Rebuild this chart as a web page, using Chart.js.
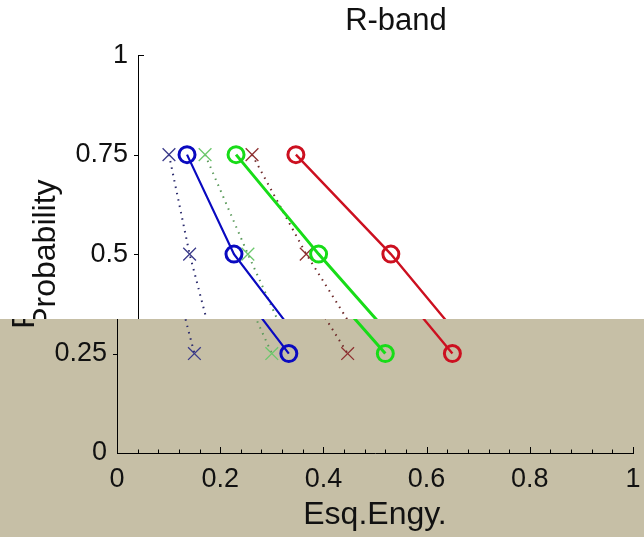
<!DOCTYPE html>
<html>
<head>
<meta charset="utf-8">
<title>R-band</title>
<script src="https://cdn.jsdelivr.net/npm/chart.js@4/dist/chart.umd.min.js"></script>
<style>
  html, body { margin: 0; padding: 0; background: #ffffff; }
  #wrap { position: relative; width: 644px; height: 537px; overflow: hidden; background: #c6bfa6; }
  #under { position: absolute; left: 0; top: 0; }
  #upper { position: absolute; left: 0; top: 0; width: 644px; height: 319px; overflow: hidden; background: #ffffff; }
  #over { position: absolute; left: 21px; top: 0; }
</style>
</head>
<body>
<div id="wrap">
  <canvas id="under" width="644" height="537"></canvas>
  <div id="upper">
    <canvas id="over" width="644" height="537"></canvas>
  </div>
</div>
<script>
// Probability levels shared by every curve
const probLevels = [0.75, 0.5, 0.25];

// Energy at each probability level: solid curves (circles)
const blueEnergy  = [0.095, 0.186, 0.333];
const greenEnergy = [0.19, 0.35, 0.52];
const redEnergy   = [0.306, 0.49, 0.65];

// Energy at each probability level: dotted curves (crosses)
const blueEnergyX  = [0.06, 0.10, 0.15];
const greenEnergyX = [0.13, 0.213, 0.30];
const redEnergyX   = [0.221, 0.326, 0.447];

// Axis tick values
const xTicks = [0, 0.2, 0.4, 0.6, 0.8, 1];
const yTicks = [0, 0.25, 0.5, 0.75, 1];

const titleText = 'R-band';
const xLabel = 'Esq.Engy.';
const yLabel = 'Probability';

const FONT = "'Liberation Sans', Arial, Helvetica, sans-serif";

function pts(xs) {
  return xs.map((v, i) => ({ x: v, y: probLevels[i] }));
}

function fmt(v) {
  return String(Math.round(v * 100) / 100);
}

function solid(xs, color, width) {
  return {
    data: pts(xs),
    borderColor: color,
    backgroundColor: 'rgba(0,0,0,0)',
    borderWidth: width,
    pointStyle: 'circle',
    pointRadius: 8,
    pointBorderWidth: 3,
    pointBorderColor: color,
    pointBackgroundColor: 'rgba(0,0,0,0)',
    showLine: true,
    tension: 0
  };
}

function dotted(xs, lineColor, markColor) {
  return {
    data: pts(xs),
    borderColor: lineColor,
    backgroundColor: 'rgba(0,0,0,0)',
    borderWidth: 2,
    borderDash: [1.5, 5],
    pointStyle: 'crossRot',
    pointRadius: 9,
    pointBorderWidth: 1.3,
    pointBorderColor: markColor,
    showLine: true,
    tension: 0
  };
}

// Tick marks: x ticks point into the plot, y ticks point outward
const axisMarks = {
  id: 'axisMarks',
  afterDraw(chart) {
    const { ctx, chartArea: a, scales: { x, y } } = chart;
    ctx.save();
    ctx.strokeStyle = '#000';
    ctx.lineWidth = 1;
    ctx.beginPath();
    for (let i = 0; i <= 25; i++) {
      const px = Math.round(x.getPixelForValue(i * 0.04)) + 0.5;
      const len = (i % 5 === 0) ? 6 : 3.5;
      ctx.moveTo(px, a.bottom);
      ctx.lineTo(px, a.bottom - len);
    }
    yTicks.slice(1, -1).forEach(v => {
      const py = Math.round(y.getPixelForValue(v)) + 0.5;
      ctx.moveTo(a.left, py);
      ctx.lineTo(a.left - 4, py);
    });
    const pTop = Math.round(y.getPixelForValue(yTicks[yTicks.length - 1])) + 0.5;
    ctx.moveTo(a.left, pTop);
    ctx.lineTo(a.left + 6, pTop);
    ctx.stroke();
    ctx.restore();
  }
};

function makeChart(canvasId) {
  return new Chart(document.getElementById(canvasId), {
    type: 'scatter',
    data: {
      datasets: [
        solid(blueEnergy, '#0a0ac0', 2.2),
        dotted(blueEnergyX, '#2c2c6e', '#3a3a8a'),
        solid(greenEnergy, '#18dc18', 3),
        dotted(greenEnergyX, '#5a9a5a', '#6cc86c'),
        solid(redEnergy, '#cc1020', 2.4),
        dotted(redEnergyX, '#6e2a2a', '#8e3030')
      ]
    },
    options: {
      responsive: false,
      animation: false,
      devicePixelRatio: 1,
      layout: { padding: { top: 0, right: 4, bottom: 0, left: 0 } },
      plugins: {
        legend: { display: false },
        tooltip: { enabled: false },
        title: {
          display: true,
          text: titleText,
          fullSize: false,
          color: '#111',
          font: { family: FONT, size: 31, weight: 'normal' },
          padding: { top: 3, bottom: 15 }
        }
      },
      scales: {
        x: {
          type: 'linear',
          min: xTicks[0],
          max: xTicks[xTicks.length - 1],
          afterBuildTicks(s) { s.ticks = xTicks.map(v => ({ value: v })); },
          grid: { display: false, drawTicks: false },
          border: { display: true, color: '#000', width: 1 },
          ticks: {
            maxRotation: 0,
            autoSkip: false,
            padding: 10,
            color: '#111',
            font: { family: FONT, size: 27 },
            callback: v => fmt(v)
          },
          title: {
            display: true,
            text: xLabel,
            color: '#111',
            font: { family: FONT, size: 32 },
            padding: { top: 0, bottom: 3 }
          },
          afterFit(s) { s.height = 84; s.paddingLeft = 0; s.paddingRight = 0; }
        },
        y: {
          type: 'linear',
          min: yTicks[0],
          max: yTicks[yTicks.length - 1],
          afterBuildTicks(s) { s.ticks = yTicks.map(v => ({ value: v })); },
          grid: { display: false, drawTicks: false },
          border: { display: true, color: '#000', width: 1 },
          ticks: {
            autoSkip: false,
            padding: 10,
            color: '#111',
            font: { family: FONT, size: 27 },
            callback: v => fmt(v)
          },
          title: {
            display: true,
            text: yLabel,
            color: '#111',
            font: { family: FONT, size: 32 },
            padding: { top: 6, bottom: 0 }
          },
          afterFit(s) { s.width = 117; s.paddingTop = 0; s.paddingBottom = 0; }
        }
      }
    },
    plugins: [axisMarks]
  });
}

makeChart('under');
makeChart('over');
</script>
</body>
</html>
